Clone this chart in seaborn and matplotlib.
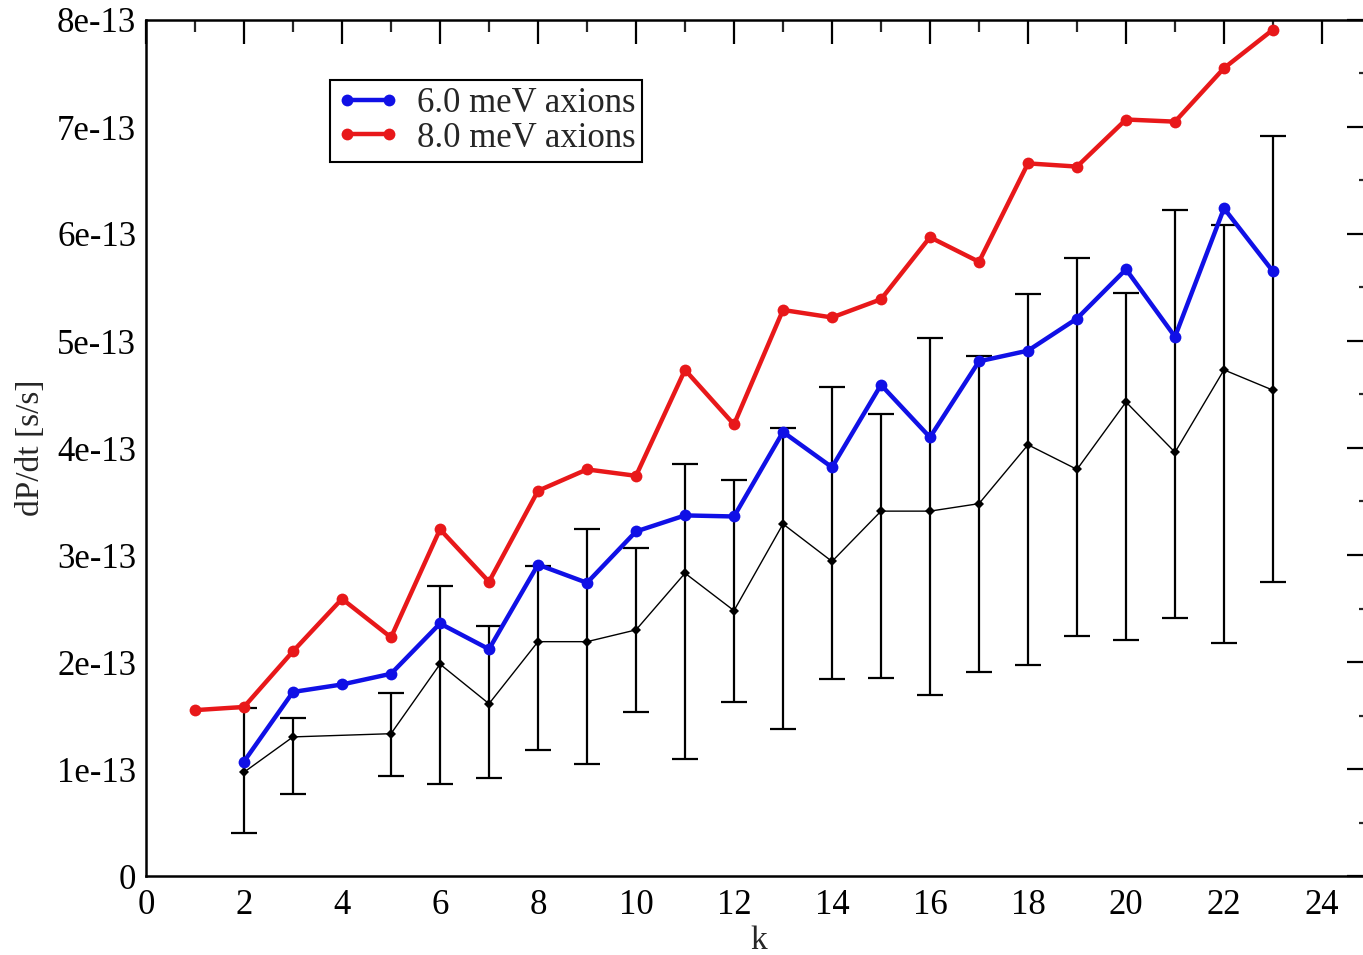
import numpy as np
import pandas as pd
import matplotlib
matplotlib.use("Agg")
import matplotlib.pyplot as plt
from matplotlib.ticker import MultipleLocator
import seaborn as sns

# ---- data (dP/dt in units of 1e-13 s/s) ----
k_red = list(range(1, 24))
red_8mev = [1.55, 1.58, 2.10, 2.59, 2.23, 3.24, 2.75, 3.60, 3.80, 3.74, 4.73, 4.22,
            5.29, 5.22, 5.39, 5.97, 5.74, 6.66, 6.63, 7.07, 7.05, 7.55, 7.91]
k_blue = list(range(2, 24))
blue_6mev = [1.07, 1.72, 1.79, 1.89, 2.36, 2.12, 2.91, 2.74, 3.22, 3.37, 3.36, 4.15,
             3.82, 4.59, 4.10, 4.81, 4.91, 5.21, 5.67, 5.04, 6.24, 5.65]
k_obs = [2, 3] + list(range(5, 24))
obs = [0.97, 1.30, 1.33, 1.98, 1.61, 2.19, 2.19, 2.30, 2.83, 2.48, 3.29, 2.94,
       3.41, 3.41, 3.48, 4.03, 3.80, 4.43, 3.96, 4.73, 4.54]
obs_upper = [1.57, 1.48, 1.71, 2.71, 2.34, 2.90, 3.24, 3.07, 3.85, 3.70, 4.19, 4.57,
             4.32, 5.03, 4.86, 5.44, 5.78, 5.45, 6.22, 6.08, 6.92]
obs_lower = [0.40, 0.77, 0.93, 0.86, 0.92, 1.18, 1.05, 1.53, 1.09, 1.63, 1.37, 1.84,
             1.85, 1.69, 1.91, 1.97, 2.24, 2.21, 2.41, 2.18, 2.75]
series_labels = ["6.0 meV axions", "8.0 meV axions"]
ytick_vals = [0, 1, 2, 3, 4, 5, 6, 7, 8]
ytick_labels = ["0", "1e-13", "2e-13", "3e-13", "4e-13", "5e-13", "6e-13", "7e-13", "8e-13"]
xtick_vals = list(range(0, 26, 2))
scale = 1e-13

sns.set_style("white")
plt.rcParams["font.family"] = ["Liberation Serif", "DejaVu Serif"]

fig = plt.figure(figsize=(13.63, 9.55), dpi=100)
ax = fig.add_axes([146 / 1363, 79 / 955, 1225 / 1363, 856 / 955])

df = pd.concat([
    pd.DataFrame({"k": k_blue, "val": np.array(blue_6mev) * scale, "series": series_labels[0]}),
    pd.DataFrame({"k": k_red, "val": np.array(red_8mev) * scale, "series": series_labels[1]}),
])

# observed values with error bars (black)
obs_arr = np.array(obs) * scale
yerr = [obs_arr - np.array(obs_lower) * scale, np.array(obs_upper) * scale - obs_arr]
ax.errorbar(k_obs, obs_arr, yerr=yerr, fmt="none", ecolor="black", elinewidth=1.6,
            capsize=9.5, capthick=1.6, zorder=2)
sns.lineplot(x=k_obs, y=obs_arr, ax=ax, color="black", lw=1.0, marker="D",
             markersize=5, markeredgewidth=0, zorder=3, legend=False)

sns.lineplot(data=df, x="k", y="val", hue="series", ax=ax,
             palette={series_labels[0]: "#1010e6", series_labels[1]: "#e8181a"},
             lw=3.2, marker="o", markersize=8.5, markeredgewidth=0, zorder=4)

ax.set_xlim(0, 25)
ax.set_ylim(0, 8 * scale)
ax.set_xticks(xtick_vals)
ax.set_xticklabels([str(v) for v in xtick_vals])
ax.set_yticks([v * scale for v in ytick_vals])
ax.set_yticklabels(ytick_labels)
ax.xaxis.set_minor_locator(MultipleLocator(1))
ax.yaxis.set_minor_locator(MultipleLocator(0.5 * scale))
ax.tick_params(which="major", direction="in", length=17, width=1.6, top=True, right=True,
               labelsize=25, colors="black")
ax.tick_params(axis="x", which="major", pad=9)
ax.tick_params(axis="y", which="major", pad=7)
ax.tick_params(which="minor", direction="in", length=8.5, width=1.6, top=True, right=True)
for s in ax.spines.values():
    s.set_linewidth(1.8)
    s.set_color("black")

ax.set_xlabel("k", fontsize=24, labelpad=3)
ax.set_ylabel("dP/dt [s/s]", fontsize=24, labelpad=8)

leg = ax.legend(loc="upper left", bbox_to_anchor=(0.150, 0.930), fontsize=25,
                frameon=True, fancybox=False, edgecolor="black", framealpha=1,
                numpoints=2, handlelength=1.8, handletextpad=0.5, borderpad=0.2,
                labelspacing=0.05, borderaxespad=0)
leg.get_frame().set_linewidth(1.5)
leg.set_title(None)

fig.savefig("out.png", dpi=100)
